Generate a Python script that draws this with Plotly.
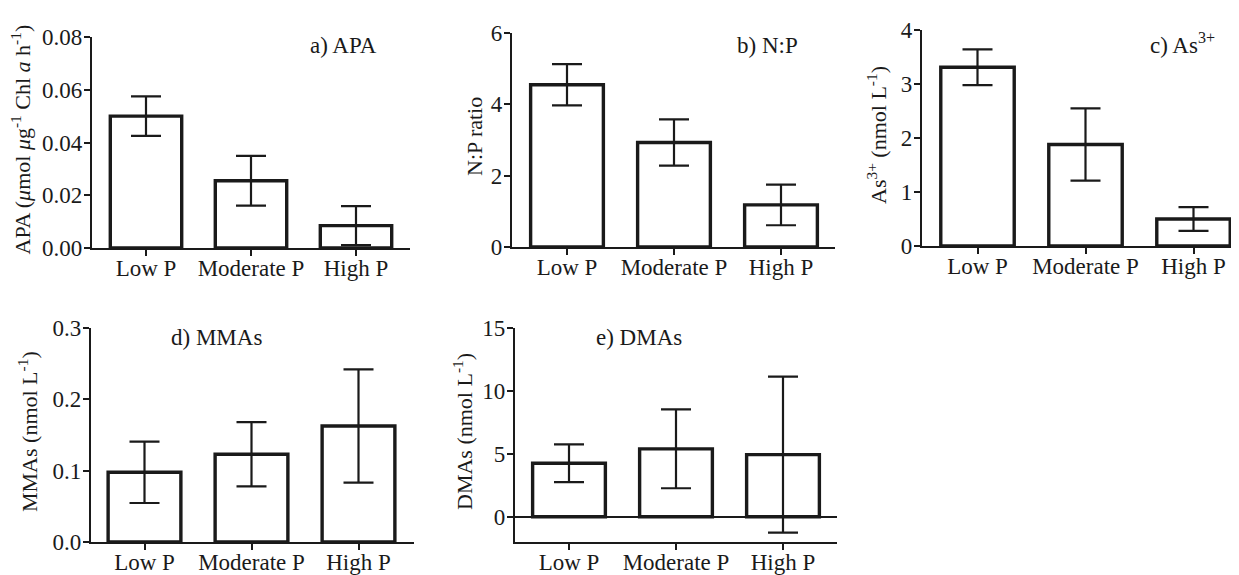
import plotly.graph_objects as go

# The page body has an 8px margin, so the figure is drawn 8px in from the
# window corner; the pixel layout below is given in window coordinates.
VIEW_W, VIEW_H = 1239, 575
OFF = 8
W, H = VIEW_W - OFF, VIEW_H - OFF
FONT = "Liberation Serif"
INK = "#1a1a1a"

categories = ["Low P", "Moderate P", "High P"]

apa_mean = [0.050, 0.0255, 0.0085]
apa_err = [0.0075, 0.0094, 0.0074]
np_mean = [4.55, 2.93, 1.18]
np_err = [0.58, 0.65, 0.57]
as3_mean = [3.31, 1.88, 0.50]
as3_err = [0.33, 0.67, 0.22]
mmas_mean = [0.0977, 0.123, 0.1626]
mmas_err = [0.043, 0.045, 0.0795]
dmas_mean = [4.26, 5.40, 4.94]
dmas_err = [1.50, 3.13, 6.20]

apa_ticks = [0, 0.02, 0.04, 0.06, 0.08]
np_ticks = [0, 2, 4, 6]
as3_ticks = [0, 1, 2, 3, 4]
mmas_ticks = [0.0, 0.1, 0.2, 0.3]
dmas_ticks = [0, 5, 10, 15]


def fx(px):
    return (px - OFF) / W


def fy(py):
    return (H - (py - OFF)) / H


# panel geometry in window pixels: (x_left, x_right, y_top, y_bottom, cat0_px, spacing_px)
panels = [
    dict(mean=apa_mean, err=apa_err, px=(92, 410, 37, 248, 146, 105), yr=[0, 0.08],
         ticks=apa_ticks, fmt=".2f", label="a) APA", lab_xy=(343, 45),
         title="APA (<i>μ</i>mol <i>μ</i>g<sup>-1</sup> Chl <i>a</i> h<sup>-1</sup>)", tx=20),
    dict(mean=np_mean, err=np_err, px=(512, 835, 33, 247, 567, 107), yr=[0, 6],
         ticks=np_ticks, fmt="d", label="b) N:P", lab_xy=(767, 45),
         title="N:P ratio", tx=474),
    dict(mean=as3_mean, err=as3_err, px=(922, 1239, 30, 246, 977.5, 108), yr=[0, 4],
         ticks=as3_ticks, fmt="d", label="c) As<sup>3+</sup>", lab_xy=(1182, 43),
         title="As<sup>3+</sup> (nmol L<sup>-1</sup>)", tx=877),
    dict(mean=mmas_mean, err=mmas_err, px=(91, 414, 328, 542, 144.5, 107), yr=[0, 0.3],
         ticks=mmas_ticks, fmt=".1f", label="d) MMAs", lab_xy=(216, 337),
         title="MMAs (nmol L<sup>-1</sup>)", tx=28),
    dict(mean=dmas_mean, err=dmas_err, px=(515, 837, 328, 542, 569, 107), yr=[-2, 15],
         ticks=dmas_ticks, fmt="d", label="e) DMAs", lab_xy=(639, 337),
         title="DMAs (nmol L<sup>-1</sup>)", tx=463),
]

fig = go.Figure()
annotations = []
layout = {}
for i, p in enumerate(panels):
    n = "" if i == 0 else str(i + 1)
    xl, xr, yt, yb, c0, sp = p["px"]
    xrange = [(xl - c0) / sp, (xr - c0) / sp]
    fig.add_trace(go.Bar(
        x=categories, y=p["mean"], xaxis="x" + n, yaxis="y" + n,
        width=0.68,
        marker=dict(color="white", line=dict(color=INK, width=3.4)),
        error_y=dict(type="data", array=p["err"], visible=True,
                     color=INK, thickness=2.2, width=15),
        showlegend=False, hoverinfo="skip",
    ))
    layout["xaxis" + n] = dict(
        domain=[max(fx(xl), 0.0), min(fx(xr), 1.0)], anchor="y" + n, type="category",
        range=xrange, showline=True, linecolor=INK, linewidth=2.2,
        ticks="outside", ticklen=6, tickwidth=2, tickcolor=INK,
        ticklabelstandoff=-8,
        tickfont=dict(family=FONT, size=23, color=INK), showgrid=False,
        zeroline=False, fixedrange=True, automargin=False,
    )
    layout["yaxis" + n] = dict(
        domain=[fy(yb), fy(yt)], anchor="x" + n,
        range=p["yr"], tickvals=p["ticks"], tickformat=p["fmt"],
        showline=True, linecolor=INK, linewidth=2.2,
        ticks="outside", ticklen=6, tickwidth=2, tickcolor=INK,
        ticklabelstandoff=-3,
        tickfont=dict(family=FONT, size=23, color=INK), showgrid=False,
        zeroline=(p["yr"][0] < 0), zerolinecolor=INK, zerolinewidth=2.2,
        fixedrange=True, automargin=False,
    )
    annotations.append(dict(
        text=p["label"], x=fx(p["lab_xy"][0]), y=fy(p["lab_xy"][1]),
        xref="paper", yref="paper", xanchor="center", yanchor="middle",
        showarrow=False, font=dict(family=FONT, size=23, color=INK),
    ))
    annotations.append(dict(
        text=p["title"], x=fx(p["tx"]), y=fy((yt + yb) / 2 - 3),
        xref="paper", yref="paper", xanchor="center", yanchor="middle",
        textangle=-90, showarrow=False,
        font=dict(family=FONT, size=22, color=INK),
    ))

fig.update_layout(
    template="none",
    width=W, height=H, margin=dict(l=0, r=0, t=0, b=0, pad=0),
    paper_bgcolor="white", plot_bgcolor="white",
    annotations=annotations, **layout,
)
fig.write_html("out.html")
